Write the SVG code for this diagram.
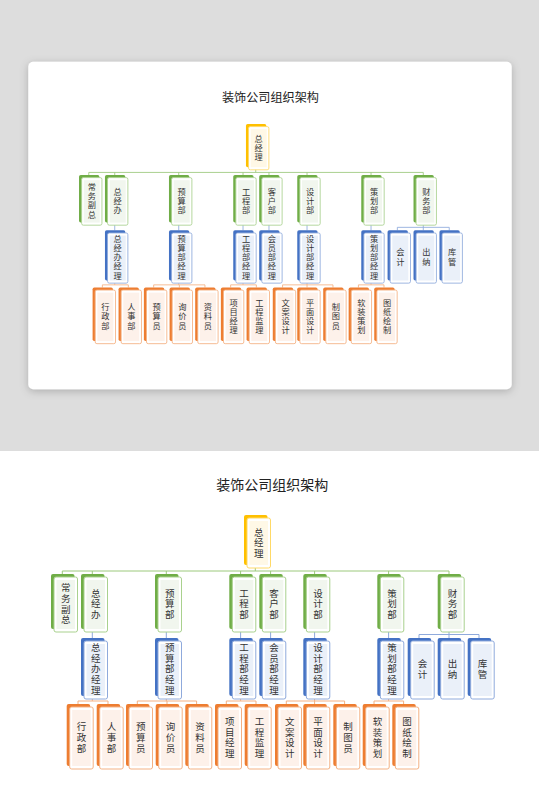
<svg xmlns="http://www.w3.org/2000/svg" xmlns:xlink="http://www.w3.org/1999/xlink" width="539" height="812" viewBox="0 0 539 812">
<defs>
<style>
.bk-y{fill:#ffc000}.fr-y{fill:#fff;stroke:#ffd966;stroke-width:1}.in-y{fill:#fff8e6}
.bk-g{fill:#70ad47}.fr-g{fill:#fff;stroke:#a9d18e;stroke-width:1}.in-g{fill:#f1f6ee}
.bk-b{fill:#4472c4}.fr-b{fill:#fff;stroke:#8faadc;stroke-width:1}.in-b{fill:#eaf0f9}
.bk-o{fill:#ed7d31}.fr-o{fill:#fff;stroke:#f4b183;stroke-width:1}.in-o{fill:#fdf1ea}
.t{font-family:"Noto Sans CJK SC","Noto Sans CJK JP",sans-serif;font-size:9.5px;fill:#333;text-anchor:middle}
.title{font-family:"Noto Sans CJK SC","Noto Sans CJK JP",sans-serif;font-size:14px;fill:#222;text-anchor:middle}
.c-g{fill:none;stroke:#9cc97c;stroke-width:1}
.c-b{fill:none;stroke:#8faadc;stroke-width:1}
.c-o{fill:none;stroke:#f4b183;stroke-width:1}
</style>
<filter id="sh" x="-10%" y="-10%" width="120%" height="125%">
<feDropShadow dx="0" dy="2" stdDeviation="4" flood-color="#000" flood-opacity="0.22"/>
</filter>
</defs>
<rect x="0" y="0" width="539" height="451" fill="#dddddd"/>
<rect x="0" y="451" width="539" height="361" fill="#ffffff"/>
<rect x="28.3" y="61.7" width="483.4" height="327.6" rx="5" fill="#ffffff" filter="url(#sh)"/>
<g id="chart">
<text class="title" x="272.3" y="490">装饰公司组织架构</text>
<g id="connectors">
<path class="c-g" d="M255.3 565V571M62.3 571H449M62.3 571V574M92.3 571V574M166.3 571V574M240.6 571V574M270.6 571V574M314.6 571V574M388.6 571V574M449 571V574"/>
<path class="c-b" d="M92.3 629V638M166.3 629V638M240.6 629V638M270.6 629V638M314.6 629V638M388.6 629V638M449 629V638M419 634.5H479M419 634.5V638M479 634.5V638"/>
<path class="c-o" d="M92.3 696V701M78 701H108M78 701V704M108 701V704M166.3 696V701M137.3 701H196.6M137.3 701V704M167 701V704M196.6 701V704M240.6 696V701M226.3 701H256M226.3 701V704M256 701V704M314.6 696V701M286.3 701H344.6M286.3 701V704M314.6 701V704M344.6 701V704M388.6 696V701M374 701H403.6M374 701V704M403.6 701V704"/>
</g>
<g id="n-zongjingli"><rect class="bk-y" x="244" y="515" width="23.5" height="50" rx="2"/><rect class="fr-y" x="247" y="518" width="23.5" height="50" rx="2"/><rect class="in-y" x="249.5" y="521" width="18.5" height="44"/><text class="t" x="258.75"><tspan x="258.75" y="535.5">总</tspan><tspan x="258.75" y="546.2">经</tspan><tspan x="258.75" y="556.9">理</tspan></text></g>

<g id="n-changwu"><rect class="bk-g" x="51" y="574" width="23.5" height="55" rx="2"/><rect class="fr-g" x="54" y="577" width="23.5" height="55" rx="2"/><rect class="in-g" x="56.5" y="580" width="18.5" height="49"/><text class="t"><tspan x="65.75" y="591.25">常</tspan><tspan x="65.75" y="601.95">务</tspan><tspan x="65.75" y="612.65">副</tspan><tspan x="65.75" y="623.35">总</tspan></text></g>
<g id="n-zongjingban"><rect class="bk-g" x="81" y="574" width="23.5" height="55" rx="2"/><rect class="fr-g" x="84" y="577" width="23.5" height="55" rx="2"/><rect class="in-g" x="86.5" y="580" width="18.5" height="49"/><text class="t"><tspan x="95.75" y="596.6">总</tspan><tspan x="95.75" y="607.3">经</tspan><tspan x="95.75" y="618">办</tspan></text></g>
<g id="n-yusuanbu"><rect class="bk-g" x="155" y="574" width="23.5" height="55" rx="2"/><rect class="fr-g" x="158" y="577" width="23.5" height="55" rx="2"/><rect class="in-g" x="160.5" y="580" width="18.5" height="49"/><text class="t"><tspan x="169.75" y="596.6">预</tspan><tspan x="169.75" y="607.3">算</tspan><tspan x="169.75" y="618">部</tspan></text></g>
<g id="n-gongchengbu"><rect class="bk-g" x="229.3" y="574" width="23.5" height="55" rx="2"/><rect class="fr-g" x="232.3" y="577" width="23.5" height="55" rx="2"/><rect class="in-g" x="234.8" y="580" width="18.5" height="49"/><text class="t"><tspan x="244.05" y="596.6">工</tspan><tspan x="244.05" y="607.3">程</tspan><tspan x="244.05" y="618">部</tspan></text></g>
<g id="n-kehubu"><rect class="bk-g" x="259.3" y="574" width="23.5" height="55" rx="2"/><rect class="fr-g" x="262.3" y="577" width="23.5" height="55" rx="2"/><rect class="in-g" x="264.8" y="580" width="18.5" height="49"/><text class="t"><tspan x="274.05" y="596.6">客</tspan><tspan x="274.05" y="607.3">户</tspan><tspan x="274.05" y="618">部</tspan></text></g>
<g id="n-shejibu"><rect class="bk-g" x="303.3" y="574" width="23.5" height="55" rx="2"/><rect class="fr-g" x="306.3" y="577" width="23.5" height="55" rx="2"/><rect class="in-g" x="308.8" y="580" width="18.5" height="49"/><text class="t"><tspan x="318.05" y="596.6">设</tspan><tspan x="318.05" y="607.3">计</tspan><tspan x="318.05" y="618">部</tspan></text></g>
<g id="n-cehuabu"><rect class="bk-g" x="377.3" y="574" width="23.5" height="55" rx="2"/><rect class="fr-g" x="380.3" y="577" width="23.5" height="55" rx="2"/><rect class="in-g" x="382.8" y="580" width="18.5" height="49"/><text class="t"><tspan x="392.05" y="596.6">策</tspan><tspan x="392.05" y="607.3">划</tspan><tspan x="392.05" y="618">部</tspan></text></g>
<g id="n-caiwubu"><rect class="bk-g" x="437.7" y="574" width="23.5" height="55" rx="2"/><rect class="fr-g" x="440.7" y="577" width="23.5" height="55" rx="2"/><rect class="in-g" x="443.2" y="580" width="18.5" height="49"/><text class="t"><tspan x="452.45" y="596.6">财</tspan><tspan x="452.45" y="607.3">务</tspan><tspan x="452.45" y="618">部</tspan></text></g>

<g id="n-zjbjl"><rect class="bk-b" x="81" y="638" width="23.5" height="58" rx="2"/><rect class="fr-b" x="84" y="641" width="23.5" height="58" rx="2"/><rect class="in-b" x="86.5" y="644" width="18.5" height="52"/><text class="t"><tspan x="95.75" y="650.9">总</tspan><tspan x="95.75" y="661.6">经</tspan><tspan x="95.75" y="672.3">办</tspan><tspan x="95.75" y="683">经</tspan><tspan x="95.75" y="693.7">理</tspan></text></g>
<g id="n-ysbjl"><rect class="bk-b" x="155" y="638" width="23.5" height="58" rx="2"/><rect class="fr-b" x="158" y="641" width="23.5" height="58" rx="2"/><rect class="in-b" x="160.5" y="644" width="18.5" height="52"/><text class="t"><tspan x="169.75" y="650.9">预</tspan><tspan x="169.75" y="661.6">算</tspan><tspan x="169.75" y="672.3">部</tspan><tspan x="169.75" y="683">经</tspan><tspan x="169.75" y="693.7">理</tspan></text></g>
<g id="n-gcbjl"><rect class="bk-b" x="229.3" y="638" width="23.5" height="58" rx="2"/><rect class="fr-b" x="232.3" y="641" width="23.5" height="58" rx="2"/><rect class="in-b" x="234.8" y="644" width="18.5" height="52"/><text class="t"><tspan x="244.05" y="650.9">工</tspan><tspan x="244.05" y="661.6">程</tspan><tspan x="244.05" y="672.3">部</tspan><tspan x="244.05" y="683">经</tspan><tspan x="244.05" y="693.7">理</tspan></text></g>
<g id="n-hybjl"><rect class="bk-b" x="259.3" y="638" width="23.5" height="58" rx="2"/><rect class="fr-b" x="262.3" y="641" width="23.5" height="58" rx="2"/><rect class="in-b" x="264.8" y="644" width="18.5" height="52"/><text class="t"><tspan x="274.05" y="650.9">会</tspan><tspan x="274.05" y="661.6">员</tspan><tspan x="274.05" y="672.3">部</tspan><tspan x="274.05" y="683">经</tspan><tspan x="274.05" y="693.7">理</tspan></text></g>
<g id="n-sjbjl"><rect class="bk-b" x="303.3" y="638" width="23.5" height="58" rx="2"/><rect class="fr-b" x="306.3" y="641" width="23.5" height="58" rx="2"/><rect class="in-b" x="308.8" y="644" width="18.5" height="52"/><text class="t"><tspan x="318.05" y="650.9">设</tspan><tspan x="318.05" y="661.6">计</tspan><tspan x="318.05" y="672.3">部</tspan><tspan x="318.05" y="683">经</tspan><tspan x="318.05" y="693.7">理</tspan></text></g>
<g id="n-chbjl"><rect class="bk-b" x="377.3" y="638" width="23.5" height="58" rx="2"/><rect class="fr-b" x="380.3" y="641" width="23.5" height="58" rx="2"/><rect class="in-b" x="382.8" y="644" width="18.5" height="52"/><text class="t"><tspan x="392.05" y="650.9">策</tspan><tspan x="392.05" y="661.6">划</tspan><tspan x="392.05" y="672.3">部</tspan><tspan x="392.05" y="683">经</tspan><tspan x="392.05" y="693.7">理</tspan></text></g>
<g id="n-kuaiji"><rect class="bk-b" x="407.7" y="638" width="23.5" height="58" rx="2"/><rect class="fr-b" x="410.7" y="641" width="23.5" height="58" rx="2"/><rect class="in-b" x="413.2" y="644" width="18.5" height="52"/><text class="t"><tspan x="422.45" y="666.95">会</tspan><tspan x="422.45" y="677.65">计</tspan></text></g>
<g id="n-chuna"><rect class="bk-b" x="437.7" y="638" width="23.5" height="58" rx="2"/><rect class="fr-b" x="440.7" y="641" width="23.5" height="58" rx="2"/><rect class="in-b" x="443.2" y="644" width="18.5" height="52"/><text class="t"><tspan x="452.45" y="666.95">出</tspan><tspan x="452.45" y="677.65">纳</tspan></text></g>
<g id="n-kuguan"><rect class="bk-b" x="467.7" y="638" width="23.5" height="58" rx="2"/><rect class="fr-b" x="470.7" y="641" width="23.5" height="58" rx="2"/><rect class="in-b" x="473.2" y="644" width="18.5" height="52"/><text class="t"><tspan x="482.45" y="666.95">库</tspan><tspan x="482.45" y="677.65">管</tspan></text></g>

<g id="n-xingzheng"><rect class="bk-o" x="66.7" y="704" width="23.5" height="62" rx="2"/><rect class="fr-o" x="69.7" y="707" width="23.5" height="62" rx="2"/><rect class="in-o" x="72.2" y="710" width="18.5" height="56"/><text class="t"><tspan x="81.45" y="730.3">行</tspan><tspan x="81.45" y="741">政</tspan><tspan x="81.45" y="751.7">部</tspan></text></g>
<g id="n-renshi"><rect class="bk-o" x="96.7" y="704" width="23.5" height="62" rx="2"/><rect class="fr-o" x="99.7" y="707" width="23.5" height="62" rx="2"/><rect class="in-o" x="102.2" y="710" width="18.5" height="56"/><text class="t"><tspan x="111.45" y="730.3">人</tspan><tspan x="111.45" y="741">事</tspan><tspan x="111.45" y="751.7">部</tspan></text></g>
<g id="n-yusuanyuan"><rect class="bk-o" x="126" y="704" width="23.5" height="62" rx="2"/><rect class="fr-o" x="129" y="707" width="23.5" height="62" rx="2"/><rect class="in-o" x="131.5" y="710" width="18.5" height="56"/><text class="t"><tspan x="140.75" y="730.3">预</tspan><tspan x="140.75" y="741">算</tspan><tspan x="140.75" y="751.7">员</tspan></text></g>
<g id="n-xunjia"><rect class="bk-o" x="155.7" y="704" width="23.5" height="62" rx="2"/><rect class="fr-o" x="158.7" y="707" width="23.5" height="62" rx="2"/><rect class="in-o" x="161.2" y="710" width="18.5" height="56"/><text class="t"><tspan x="170.45" y="730.3">询</tspan><tspan x="170.45" y="741">价</tspan><tspan x="170.45" y="751.7">员</tspan></text></g>
<g id="n-ziliao"><rect class="bk-o" x="185.3" y="704" width="23.5" height="62" rx="2"/><rect class="fr-o" x="188.3" y="707" width="23.5" height="62" rx="2"/><rect class="in-o" x="190.8" y="710" width="18.5" height="56"/><text class="t"><tspan x="200.05" y="730.3">资</tspan><tspan x="200.05" y="741">料</tspan><tspan x="200.05" y="751.7">员</tspan></text></g>
<g id="n-xiangmu"><rect class="bk-o" x="215" y="704" width="23.5" height="62" rx="2"/><rect class="fr-o" x="218" y="707" width="23.5" height="62" rx="2"/><rect class="in-o" x="220.5" y="710" width="18.5" height="56"/><text class="t"><tspan x="229.75" y="724.95">项</tspan><tspan x="229.75" y="735.65">目</tspan><tspan x="229.75" y="746.35">经</tspan><tspan x="229.75" y="757.05">理</tspan></text></g>
<g id="n-jianli"><rect class="bk-o" x="244.7" y="704" width="23.5" height="62" rx="2"/><rect class="fr-o" x="247.7" y="707" width="23.5" height="62" rx="2"/><rect class="in-o" x="250.2" y="710" width="18.5" height="56"/><text class="t"><tspan x="259.45" y="724.95">工</tspan><tspan x="259.45" y="735.65">程</tspan><tspan x="259.45" y="746.35">监</tspan><tspan x="259.45" y="757.05">理</tspan></text></g>
<g id="n-wenan"><rect class="bk-o" x="275" y="704" width="23.5" height="62" rx="2"/><rect class="fr-o" x="278" y="707" width="23.5" height="62" rx="2"/><rect class="in-o" x="280.5" y="710" width="18.5" height="56"/><text class="t"><tspan x="289.75" y="724.95">文</tspan><tspan x="289.75" y="735.65">案</tspan><tspan x="289.75" y="746.35">设</tspan><tspan x="289.75" y="757.05">计</tspan></text></g>
<g id="n-pingmian"><rect class="bk-o" x="303.3" y="704" width="23.5" height="62" rx="2"/><rect class="fr-o" x="306.3" y="707" width="23.5" height="62" rx="2"/><rect class="in-o" x="308.8" y="710" width="18.5" height="56"/><text class="t"><tspan x="318.05" y="724.95">平</tspan><tspan x="318.05" y="735.65">面</tspan><tspan x="318.05" y="746.35">设</tspan><tspan x="318.05" y="757.05">计</tspan></text></g>
<g id="n-zhitu"><rect class="bk-o" x="333.3" y="704" width="23.5" height="62" rx="2"/><rect class="fr-o" x="336.3" y="707" width="23.5" height="62" rx="2"/><rect class="in-o" x="338.8" y="710" width="18.5" height="56"/><text class="t"><tspan x="348.05" y="730.3">制</tspan><tspan x="348.05" y="741">图</tspan><tspan x="348.05" y="751.7">员</tspan></text></g>
<g id="n-ruanzhuang"><rect class="bk-o" x="362.7" y="704" width="23.5" height="62" rx="2"/><rect class="fr-o" x="365.7" y="707" width="23.5" height="62" rx="2"/><rect class="in-o" x="368.2" y="710" width="18.5" height="56"/><text class="t"><tspan x="377.45" y="724.95">软</tspan><tspan x="377.45" y="735.65">装</tspan><tspan x="377.45" y="746.35">策</tspan><tspan x="377.45" y="757.05">划</tspan></text></g>
<g id="n-tuzhi"><rect class="bk-o" x="392.3" y="704" width="23.5" height="62" rx="2"/><rect class="fr-o" x="395.3" y="707" width="23.5" height="62" rx="2"/><rect class="in-o" x="397.8" y="710" width="18.5" height="56"/><text class="t"><tspan x="407.05" y="724.95">图</tspan><tspan x="407.05" y="735.65">纸</tspan><tspan x="407.05" y="746.35">绘</tspan><tspan x="407.05" y="757.05">制</tspan></text></g>
</g>
<use href="#chart" xlink:href="#chart" transform="translate(34.9,-321.5) scale(0.865)"/>
</svg>
